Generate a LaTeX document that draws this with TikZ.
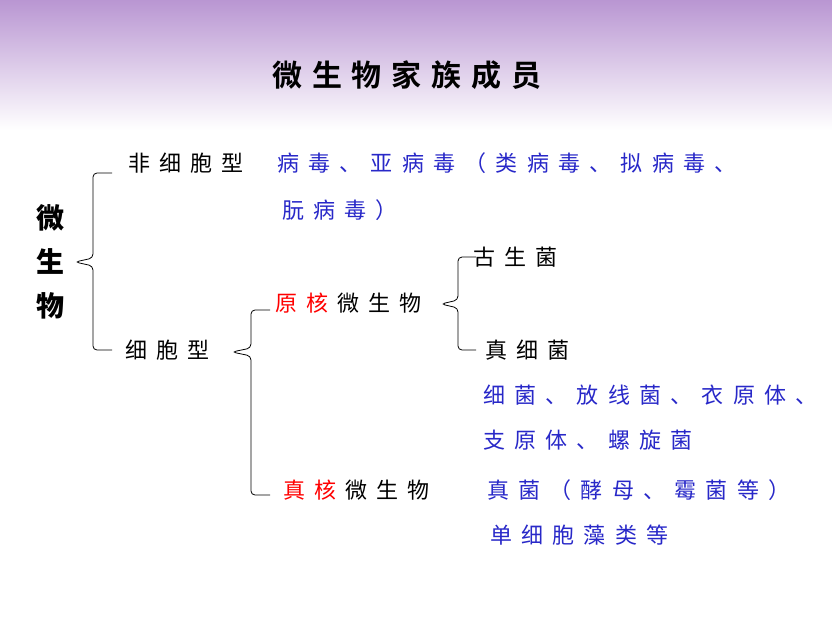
\documentclass[tikz,border=0pt]{standalone}
\usepackage{fontspec}
\setmainfont{Noto Sans CJK SC}
\newfontfamily\cj[LetterSpace=42]{Noto Sans CJK SC}
\newfontfamily\cjt[LetterSpace=33]{Noto Sans CJK SC Bold}
\begin{document}
\begin{tikzpicture}[x=1pt,y=-1pt,
  t/.style={anchor=west,inner sep=0pt,font=\cj\fontsize{22}{22}\selectfont},
  b/.style={t,text={rgb,255:red,40;green,40;blue,200}},
  br/.style={draw=black,line width=0.8pt,rounded corners=4pt}]
\useasboundingbox (0,0) rectangle (832,621);
\shade[top color={rgb,255:red,185;green,150;blue,210},bottom color=white] (0,0) rectangle (832,130);
\node[anchor=west,inner sep=0pt,font=\cjt\fontsize{30}{30}\selectfont] (title) at (272,75) {微生物家族成员};
\node[anchor=center,inner sep=0pt,font=\bfseries\fontsize{28}{44}\selectfont,align=center] (wsw) at (50,262) {微\\生\\物};
\node[t] (fx) at (128,163) {非细胞型};
\node[b] (bd) at (277,163) {病毒、亚病毒（类病毒、拟病毒、};
\node[b] (rb) at (282,210) {朊病毒）};
\node[t] (xb) at (125,350) {细胞型};
\node[t] (yh) at (275,303) {\textcolor{red}{原核}\hspace{9pt}微生物};
\node[t] (gs) at (473,257) {古生菌};
\node[t] (zx) at (485,350) {真细菌};
\node[b] (xj) at (483,395) {细菌、放线菌、衣原体、};
\node[b] (zy) at (483,440) {支原体、螺旋菌};
\node[t] (zh) at (283,490) {\textcolor{red}{真核}\hspace{9pt}微生物};
\node[b] (zj) at (487,490) {真菌（酵母、霉菌等）};
\node[b] (dx) at (490,535) {单细胞藻类等};
\draw[br] (112,173) -- (93,173) -- (93,258) -- (75,262) -- (93,266) -- (93,350) -- (112,350);
\draw[br] (270,310) -- (251,310) -- (251,348) -- (232,352) -- (251,356) -- (251,495) -- (270,495);
\draw[br] (476,257) -- (458,257) -- (458,300) -- (441,304) -- (458,308) -- (458,350) -- (476,350);
\end{tikzpicture}
\end{document}
